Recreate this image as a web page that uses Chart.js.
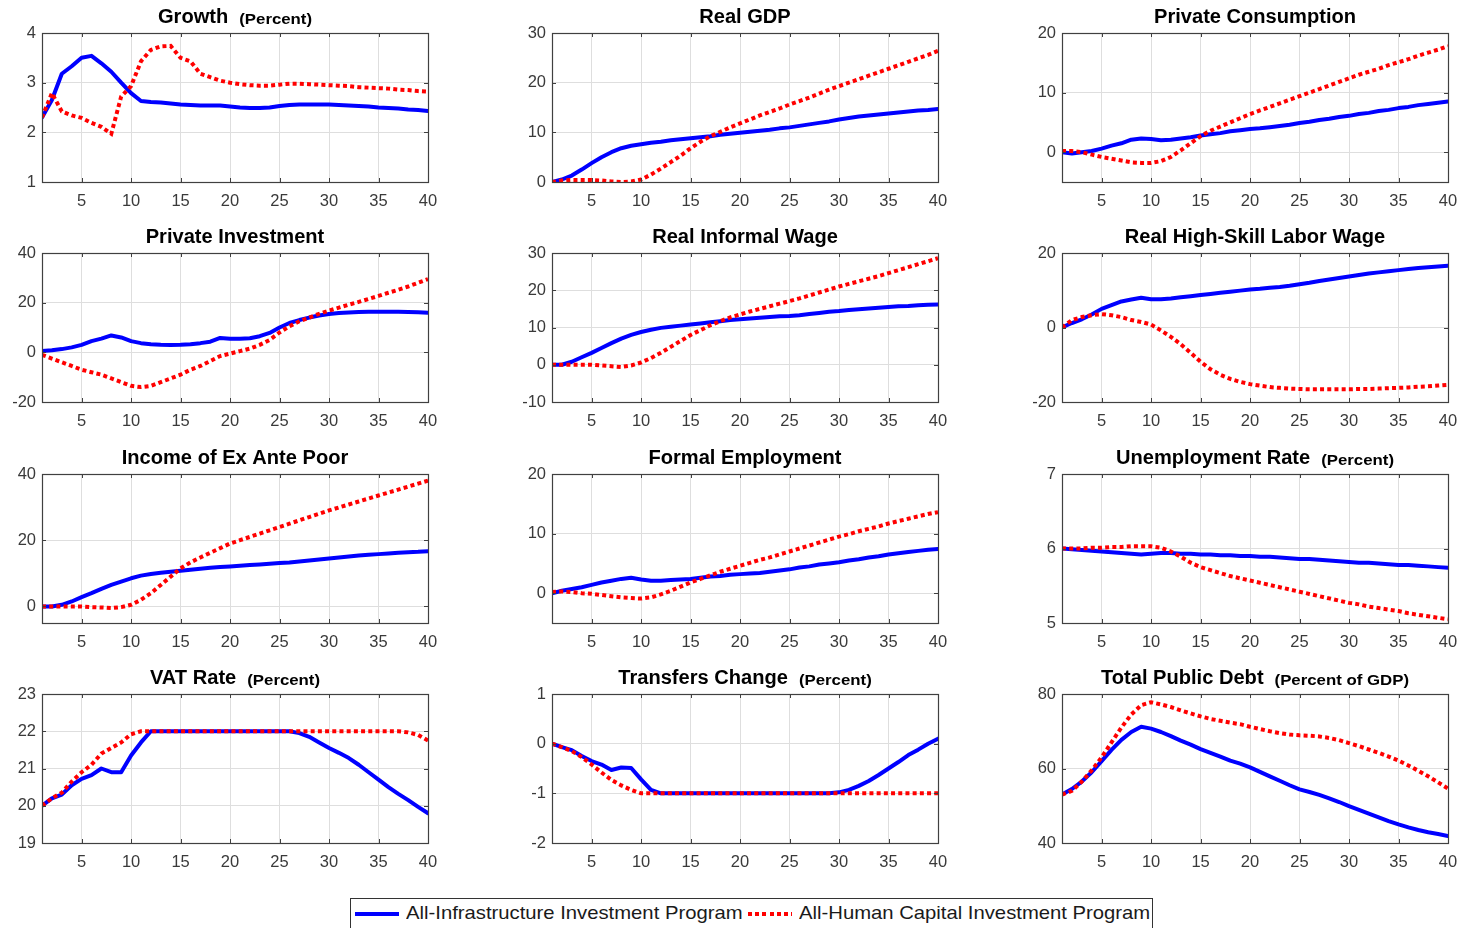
<!DOCTYPE html>
<html><head><meta charset="utf-8">
<script src="https://cdn.jsdelivr.net/npm/chart.js@4.4.1/dist/chart.umd.min.js"></script>
<style>
html,body{margin:0;padding:0;background:#fff;width:1467px;height:928px;overflow:hidden;font-family:"Liberation Sans",Arial,Helvetica,sans-serif;}
.panel{position:absolute;}
#legend{position:absolute;left:350px;top:898px;width:803px;height:36px;box-sizing:border-box;border:1px solid #333;background:#fff;}
.sw{position:absolute;top:13px;width:44px;height:4px;}
.lt{position:absolute;top:3px;font-size:19px;color:#1a1a1a;white-space:nowrap;transform:scaleX(1.066);transform-origin:0 0;}
</style></head>
<body>
<div id="charts"></div>
<div id="legend"></div>
<script>
// ---------- DATA ----------
const periods = [1,2,3,4,5,6,7,8,9,10,11,12,13,14,15,16,17,18,19,20,21,22,23,24,25,26,27,28,29,30,31,32,33,34,35,36,37,38,39,40];
const xTicks = [5,10,15,20,25,30,35,40];
const seriesNames = ["All-Infrastructure Investment Program","All-Human Capital Investment Program"];

const titles = ["Growth","Real GDP","Private Consumption","Private Investment","Real Informal Wage","Real High-Skill Labor Wage","Income of Ex Ante Poor","Formal Employment","Unemployment Rate","VAT Rate","Transfers Change","Total Public Debt"];
const units = ["(Percent)","","","","","","","","(Percent)","(Percent)","(Percent)","(Percent of GDP)"];
const yTicks = [[1,2,3,4],[0,10,20,30],[0,10,20],[-20,0,20,40],[-10,0,10,20,30],[-20,0,20],[0,20,40],[0,10,20],[5,6,7],[19,20,21,22,23],[-2,-1,0,1],[40,60,80]];
const yMin = [1,0,-5,-20,-10,-20,-5,-5,5,19,-2,40];
const yMax = [4,30,20,40,30,20,40,20,7,23,1,80];

const growthInfra = [2.30,2.65,3.18,3.33,3.50,3.54,3.39,3.22,3.00,2.79,2.63,2.61,2.60,2.58,2.56,2.55,2.54,2.54,2.54,2.52,2.50,2.49,2.49,2.50,2.53,2.55,2.56,2.56,2.56,2.56,2.55,2.54,2.53,2.52,2.50,2.49,2.48,2.46,2.45,2.43];
const growthHuman = [2.30,2.79,2.42,2.34,2.29,2.19,2.11,1.97,2.72,2.93,3.43,3.66,3.73,3.74,3.50,3.43,3.18,3.11,3.04,3.00,2.97,2.95,2.94,2.94,2.96,2.98,2.98,2.97,2.96,2.95,2.94,2.93,2.91,2.90,2.89,2.88,2.86,2.85,2.83,2.82];

const gdpInfra = [0,0.5,1.3,2.5,3.8,5.0,6.0,6.8,7.3,7.6,7.9,8.1,8.4,8.6,8.8,9.0,9.2,9.5,9.7,9.9,10.1,10.3,10.5,10.8,11.0,11.3,11.6,11.9,12.2,12.6,12.9,13.2,13.4,13.6,13.8,14.0,14.2,14.4,14.5,14.7];
const gdpHuman = [0,0.3,0.4,0.4,0.4,0.3,0.1,0,0.1,0.5,1.5,2.7,4.0,5.3,6.8,8.1,9.2,10.1,11.0,11.8,12.6,13.4,14.1,14.8,15.6,16.3,17.0,17.8,18.6,19.3,20.0,20.7,21.4,22.1,22.8,23.5,24.2,24.9,25.6,26.4];

const consInfra = [0,-0.2,0,0.2,0.6,1.1,1.5,2.1,2.3,2.2,2.0,2.1,2.3,2.5,2.8,3.0,3.2,3.5,3.7,3.9,4.0,4.2,4.4,4.6,4.9,5.1,5.4,5.6,5.9,6.1,6.4,6.6,6.9,7.1,7.4,7.6,7.9,8.1,8.3,8.5];
const consHuman = [0.2,0.2,0,-0.4,-0.8,-1.1,-1.4,-1.7,-1.8,-1.8,-1.5,-0.8,0.3,1.5,2.7,3.6,4.3,5.0,5.7,6.4,7.0,7.6,8.2,8.8,9.4,10.0,10.6,11.2,11.8,12.4,13.0,13.5,14.0,14.6,15.1,15.6,16.2,16.7,17.2,17.8];

const invInfra = [0.5,0.8,1.3,2.0,3.0,4.5,5.5,6.8,6.0,4.5,3.7,3.3,3.1,3.0,3.1,3.3,3.7,4.3,5.8,5.5,5.5,5.7,6.5,7.8,10.0,11.8,13.0,14.0,14.8,15.4,15.8,16.0,16.2,16.3,16.3,16.3,16.3,16.2,16.1,15.9];
const invHuman = [-1,-2.5,-4,-5.5,-7,-8,-9,-10.5,-12,-13.5,-14,-13.5,-12,-10.5,-9,-7,-5.5,-3.5,-1.5,-0.5,0.5,1.5,3,5,8,10.5,12.5,14,15.5,16.8,18,19.2,20.3,21.5,22.7,24,25.2,26.5,28,29.5];

const infWageInfra = [0,0,0.8,2.0,3.2,4.5,5.8,7.0,8.0,8.8,9.4,9.9,10.2,10.5,10.8,11.1,11.4,11.7,12.0,12.2,12.4,12.6,12.8,13.0,13.1,13.3,13.6,13.9,14.2,14.4,14.7,14.9,15.1,15.3,15.5,15.7,15.8,16.0,16.1,16.2];
const infWageHuman = [0,0,0,0,0,-0.2,-0.4,-0.6,-0.2,0.6,1.8,3.2,4.8,6.4,8.0,9.3,10.6,11.7,12.7,13.5,14.3,15.0,15.7,16.4,17.1,17.8,18.6,19.4,20.2,21.0,21.7,22.4,23.1,23.8,24.6,25.4,26.2,27.0,27.8,28.6];

const hsWageInfra = [0,1.2,2.2,3.5,5.0,6.0,7.0,7.5,8.0,7.6,7.6,7.8,8.1,8.4,8.7,9.0,9.3,9.6,9.9,10.2,10.4,10.7,10.9,11.2,11.6,12.0,12.5,12.9,13.3,13.7,14.1,14.5,14.8,15.1,15.4,15.7,16.0,16.2,16.4,16.6];
const hsWageHuman = [0,2.0,2.8,3.3,3.6,3.3,2.8,2.0,1.5,0.8,-0.8,-2.5,-4.5,-6.8,-9.2,-11.2,-12.7,-13.8,-14.6,-15.2,-15.6,-16.0,-16.2,-16.4,-16.5,-16.6,-16.6,-16.6,-16.6,-16.6,-16.5,-16.5,-16.4,-16.3,-16.2,-16.1,-15.9,-15.8,-15.6,-15.4];

const poorInfra = [0,0,0.5,1.5,2.8,4.0,5.3,6.5,7.5,8.5,9.3,9.8,10.2,10.5,10.8,11.1,11.4,11.7,11.9,12.1,12.3,12.5,12.7,12.9,13.1,13.3,13.6,13.9,14.2,14.5,14.8,15.1,15.4,15.6,15.8,16.0,16.2,16.4,16.5,16.7];
const poorHuman = [0,0,0,0,0,-0.2,-0.3,-0.5,-0.2,0.5,2.0,4.0,6.5,9.0,11.5,13.3,14.8,16.2,17.6,19.0,20.0,21.0,22.0,23.0,24.0,25.0,26.0,27.0,28.0,29.0,29.9,30.8,31.7,32.6,33.5,34.4,35.3,36.2,37.1,38.0];

const empInfra = [0,0.4,0.7,1.0,1.4,1.8,2.1,2.4,2.6,2.3,2.1,2.1,2.2,2.3,2.4,2.6,2.8,2.9,3.1,3.2,3.3,3.4,3.6,3.8,4.0,4.3,4.5,4.8,5.0,5.2,5.5,5.7,6.0,6.2,6.5,6.7,6.9,7.1,7.3,7.4];
const empHuman = [0.2,0.3,0.2,0,-0.1,-0.3,-0.5,-0.7,-0.8,-0.9,-0.7,-0.2,0.4,1.1,1.8,2.4,3.0,3.6,4.1,4.6,5.1,5.6,6.0,6.5,7.0,7.5,8.0,8.5,9.0,9.5,9.9,10.4,10.8,11.2,11.7,12.1,12.5,12.9,13.3,13.6];

const unempInfra = [6.00,5.99,5.98,5.97,5.96,5.95,5.94,5.93,5.92,5.93,5.94,5.94,5.93,5.93,5.92,5.92,5.91,5.91,5.90,5.90,5.89,5.89,5.88,5.87,5.86,5.86,5.85,5.84,5.83,5.82,5.81,5.81,5.80,5.79,5.78,5.78,5.77,5.76,5.75,5.74];
const unempHuman = [6.00,6.00,6.00,6.01,6.01,6.02,6.02,6.03,6.03,6.03,6.01,5.96,5.89,5.81,5.75,5.71,5.67,5.63,5.60,5.57,5.54,5.51,5.48,5.45,5.42,5.39,5.36,5.33,5.30,5.27,5.25,5.22,5.20,5.18,5.16,5.13,5.11,5.09,5.07,5.05];

const vatInfra = [20.0,20.2,20.3,20.55,20.72,20.82,21.0,20.9,20.9,21.35,21.7,22.0,22.0,22.0,22.0,22.0,22.0,22.0,22.0,22.0,22.0,22.0,22.0,22.0,22.0,22.0,21.95,21.85,21.7,21.55,21.42,21.28,21.1,20.9,20.7,20.5,20.32,20.15,19.97,19.8];
const vatHuman = [20.0,20.2,20.35,20.65,20.9,21.1,21.4,21.55,21.7,21.92,22.0,22.0,22.0,22.0,22.0,22.0,22.0,22.0,22.0,22.0,22.0,22.0,22.0,22.0,22.0,22.0,22.0,22.0,22.0,22.0,22.0,22.0,22.0,22.0,22.0,22.0,22.0,21.97,21.9,21.75];

const trInfra = [0,-0.07,-0.13,-0.25,-0.35,-0.42,-0.53,-0.48,-0.49,-0.72,-0.93,-1.0,-1.0,-1.0,-1.0,-1.0,-1.0,-1.0,-1.0,-1.0,-1.0,-1.0,-1.0,-1.0,-1.0,-1.0,-1.0,-1.0,-1.0,-0.98,-0.93,-0.85,-0.75,-0.63,-0.5,-0.37,-0.23,-0.12,0.0,0.1];
const trHuman = [0,-0.07,-0.15,-0.27,-0.42,-0.58,-0.73,-0.84,-0.93,-1.0,-1.0,-1.0,-1.0,-1.0,-1.0,-1.0,-1.0,-1.0,-1.0,-1.0,-1.0,-1.0,-1.0,-1.0,-1.0,-1.0,-1.0,-1.0,-1.0,-1.0,-1.0,-1.0,-1.0,-1.0,-1.0,-1.0,-1.0,-1.0,-1.0,-1.0];

const debtInfra = [53,54.5,56.5,59,62,65,67.7,69.8,71.2,70.7,69.8,68.7,67.5,66.4,65.2,64.2,63.2,62.1,61.3,60.3,59.1,57.9,56.7,55.5,54.4,53.7,52.9,52.0,51.0,49.9,48.9,47.9,46.9,45.9,45.0,44.2,43.5,42.9,42.4,41.9];
const debtHuman = [53,54,56.5,59.5,63,67,71,74.5,77,77.8,77.2,76.5,75.6,74.8,74,73.3,72.8,72.3,71.9,71.2,70.6,70.0,69.5,69.1,68.9,68.8,68.6,68.2,67.6,66.8,66.0,65.1,64.2,63.2,62.1,60.8,59.4,57.9,56.3,54.6];

const infraSeries = [growthInfra,gdpInfra,consInfra,invInfra,infWageInfra,hsWageInfra,poorInfra,empInfra,unempInfra,vatInfra,trInfra,debtInfra];
const humanSeries = [growthHuman,gdpHuman,consHuman,invHuman,infWageHuman,hsWageHuman,poorHuman,empHuman,unempHuman,vatHuman,trHuman,debtHuman];

// ---------- STYLE / LAYOUT ----------
const FONT = '"Liberation Sans", Arial, Helvetica, sans-serif';
const colLeft = [42, 552, 1062];
const rowTop = [33, 253, 474, 694];
const plotW = 386, plotH = 149, axisW = 42, titleH = 33, xAxisH = 32, rightPad = 20;
const BLUE = '#0000ff', RED = '#ff0000', AXIS = '#404040', GRID = '#dedede', TICKTXT = '#3a3a3a';
const MAIN_FONT = 'bold 19.5px ' + FONT, MAIN_SX = 1.03;
const SUB_FONT = 'bold 15px ' + FONT, SUB_SX = 1.12;

const framePlugin = {
  id: 'matlabFrame',
  afterDraw(chart, args, opts) {
    const {ctx, chartArea: a} = chart;
    ctx.save();
    ctx.strokeStyle = AXIS; ctx.lineWidth = 1;
    const ys = chart.scales.y, xs = chart.scales.x;
    ctx.beginPath();
    ys.ticks.forEach(t => {
      const py = Math.round(ys.getPixelForValue(t.value)) + 0.5;
      ctx.moveTo(a.left, py); ctx.lineTo(a.left + 4, py);
      ctx.moveTo(a.right, py); ctx.lineTo(a.right - 4, py);
    });
    xs.ticks.forEach(t => {
      const px = Math.round(xs.getPixelForValue(t.value)) + 0.5;
      ctx.moveTo(px, a.bottom); ctx.lineTo(px, a.bottom - 4);
      ctx.moveTo(px, a.top); ctx.lineTo(px, a.top + 4);
    });
    ctx.stroke();
    ctx.lineWidth = 1.2;
    ctx.strokeRect(Math.round(a.left) + 0.5, Math.round(a.top) + 0.5, Math.round(a.right - a.left), Math.round(a.bottom - a.top));
    // title: bold main + smaller unit
    const main = opts.main || '', sub = opts.sub || '';
    ctx.fillStyle = '#000';
    ctx.textBaseline = 'alphabetic';
    ctx.textAlign = 'left';
    ctx.font = MAIN_FONT;
    const mw = ctx.measureText(main).width * MAIN_SX;
    ctx.font = SUB_FONT;
    const sw = sub ? ctx.measureText(sub).width * SUB_SX : 0;
    const gap = sub ? 11 : 0;
    const total = mw + gap + sw;
    const x0 = (a.left + a.right) / 2 - total / 2;
    const by = a.top - 10;
    ctx.save(); ctx.translate(x0, by); ctx.scale(MAIN_SX, 1); ctx.font = MAIN_FONT; ctx.fillText(main, 0, 0); ctx.restore();
    if (sub) { ctx.save(); ctx.translate(x0 + mw + gap, by + 1); ctx.scale(SUB_SX, 1); ctx.font = SUB_FONT; ctx.fillText(sub, 0, 0); ctx.restore(); }
    ctx.restore();
  }
};

const host = document.getElementById('charts');
titles.forEach((title, i) => {
  const c = i % 3, r = Math.floor(i / 3);
  const W = axisW + plotW + rightPad, H = titleH + plotH + xAxisH;
  const div = document.createElement('div');
  div.className = 'panel';
  div.style.left = (colLeft[c] - axisW) + 'px';
  div.style.top = (rowTop[r] - titleH) + 'px';
  div.style.width = W + 'px'; div.style.height = H + 'px';
  const cv = document.createElement('canvas');
  cv.width = W; cv.height = H; cv.style.width = W + 'px'; cv.style.height = H + 'px';
  div.appendChild(cv); host.appendChild(div);

  const toPts = arr => periods.map((p, k) => ({x: p, y: arr[k]}));
  new Chart(cv, {
    type: 'line',
    data: {
      datasets: [
        {label: seriesNames[0], data: toPts(infraSeries[i]), borderColor: BLUE, backgroundColor: BLUE, borderWidth: 4, pointRadius: 0, tension: 0, order: 1, borderJoinStyle: 'round', borderCapStyle: 'round'},
        {label: seriesNames[1], data: toPts(humanSeries[i]), borderColor: RED, backgroundColor: RED, borderWidth: 4, borderDash: [4, 3.2], borderCapStyle: 'butt', pointRadius: 0, tension: 0, order: 0}
      ]
    },
    options: {
      responsive: false, maintainAspectRatio: false, animation: false,
      layout: {padding: {top: titleH, right: rightPad, left: 0, bottom: 0}},
      plugins: {legend: {display: false}, title: {display: false}, tooltip: {enabled: false},
                matlabFrame: {main: title, sub: units[i]}},
      scales: {
        x: {
          type: 'linear', min: 1, max: 40,
          afterBuildTicks: s => { s.ticks = xTicks.map(v => ({value: v})); },
          afterFit: s => { s.height = xAxisH; },
          grid: {color: GRID, lineWidth: 1, drawTicks: false},
          border: {display: false},
          ticks: {autoSkip: false, maxRotation: 0, padding: 10, color: TICKTXT, font: {family: FONT, size: 16.5}, callback: v => String(v)}
        },
        y: {
          type: 'linear', min: yMin[i], max: yMax[i],
          afterBuildTicks: s => { s.ticks = yTicks[i].map(v => ({value: v})); },
          afterFit: s => { s.width = axisW; },
          grid: {color: GRID, lineWidth: 1, drawTicks: false},
          border: {display: false},
          ticks: {autoSkip: false, padding: 6, color: TICKTXT, font: {family: FONT, size: 16.5}, callback: v => String(v)}
        }
      }
    },
    plugins: [framePlugin]
  });
});

// ---------- shared legend ----------
const leg = document.getElementById('legend');
const swatches = [
  {left: 4, css: 'background:' + BLUE + ';'},
  {left: 397, css: 'background:repeating-linear-gradient(to right,' + RED + ' 0 4px, transparent 4px 7.2px);'}
];
const textLeft = [55, 448];
seriesNames.forEach((name, k) => {
  const s = document.createElement('div');
  s.className = 'sw'; s.style.cssText = swatches[k].css; s.style.left = swatches[k].left + 'px';
  leg.appendChild(s);
  const t = document.createElement('div');
  t.className = 'lt'; t.style.left = textLeft[k] + 'px'; t.textContent = name;
  leg.appendChild(t);
});
</script>
</body></html>
